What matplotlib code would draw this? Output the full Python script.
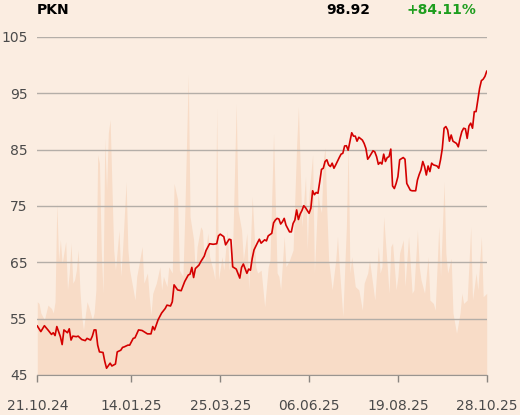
import matplotlib
matplotlib.use("Agg")
import matplotlib.pyplot as plt

# ---------------- data ----------------
ticker = "PKN"
last_price = "98.92"
change = "+84.11%"

tick_days = [0, 53, 103, 153, 203, 253]
tick_labels = ["21.10.24", "14.01.25", "25.03.25", "06.06.25", "19.08.25", "28.10.25"]
y_ticks = [45, 55, 65, 75, 85, 95, 105]

price_day = [0, 2, 4, 6, 8, 9, 10, 11, 13, 14, 15, 17, 18, 19, 20, 22, 23, 25, 27, 28,
             30, 31, 32, 33, 34, 35, 37, 38, 39, 41, 42, 44, 45, 47, 48, 49, 51, 52, 54, 55,
             57, 59, 61, 62, 64, 65, 66, 68, 70, 72, 73, 75, 76, 77, 79, 81, 83, 85, 86, 87,
             88, 89, 91, 92, 94, 95, 97, 99, 101, 102, 103, 105, 106, 108, 109, 110, 112, 114, 115, 116,
             118, 119, 120, 121, 122, 124, 125, 126, 128, 129, 130, 132, 133, 134, 135, 136, 137, 138, 139, 140,
             142, 143, 144, 145, 146, 147, 148, 149, 150, 151, 153, 154, 155, 156, 157, 158, 159, 160, 161, 162,
             163, 164, 165, 166, 167, 168, 170, 171, 172, 173, 174, 175, 176, 177, 178, 179, 180, 181, 183, 184,
             185, 186, 187, 189, 190, 191, 192, 193, 194, 195, 196, 197, 198, 199, 200, 201, 202, 203, 204, 206,
             207, 208, 210, 211, 213, 214, 215, 216, 217, 218, 219, 220, 221, 222, 223, 225, 226, 227, 228, 229,
             230, 231, 232, 233, 234, 236, 237, 238, 239, 240, 241, 242, 243, 244, 245, 246, 247, 248, 249, 250,
             251, 252, 253]
price = [53.7, 52.7, 53.75, 53.0, 52.2, 52.5, 52.0, 53.6, 51.8, 50.4, 53.0, 52.5, 53.2, 51.2, 51.9, 51.8, 51.9, 51.3, 51.1, 51.5,
         51.2, 51.9, 53.0, 53.0, 50.3, 49.1, 49.0, 47.4, 46.2, 47.1, 46.6, 46.95, 49.1, 49.4, 49.9, 50.0, 50.3, 50.3, 51.5, 51.6,
         53.0, 52.9, 52.5, 52.3, 52.3, 53.6, 53.0, 54.8, 56.0, 56.8, 57.4, 57.25, 58.0, 61.0, 60.1, 59.96, 61.6, 62.75, 62.9, 64.1,
         62.3, 63.9, 64.5, 65.1, 66.1, 67.1, 68.3, 68.2, 68.3, 69.7, 70.0, 69.55, 68.1, 69.1, 69.0, 64.2, 63.8, 62.2, 64.1, 64.7,
         63.05, 63.8, 63.6, 65.7, 67.2, 68.5, 69.1, 68.4, 69.0, 68.8, 69.7, 70.15, 72.0, 72.5, 72.8, 72.7, 71.8, 72.2, 72.8, 71.6,
         70.4, 70.4, 71.9, 72.5, 74.3, 72.6, 73.6, 74.2, 75.05, 74.7, 73.7, 74.6, 77.7, 77.0, 77.4, 77.25, 79.3, 81.5, 81.7, 82.9,
         83.2, 82.3, 82.0, 82.6, 81.7, 82.3, 83.6, 84.2, 84.35, 85.65, 85.7, 84.9, 86.5, 88.0, 87.4, 87.4, 86.5, 87.2, 86.7, 86.1,
         85.2, 83.3, 83.75, 84.8, 84.6, 83.75, 82.4, 82.75, 82.45, 84.2, 82.9, 83.6, 83.75, 85.1, 78.55, 78.1, 79.0, 80.2, 83.2, 83.6,
         83.3, 79.0, 77.8, 77.7, 77.7, 79.6, 80.6, 81.4, 82.9, 82.0, 80.5, 82.1, 81.1, 82.6, 82.3, 82.1, 81.7, 83.2, 85.2, 88.8,
         89.1, 88.5, 86.5, 87.6, 86.5, 86.1, 85.5, 87.0, 88.2, 88.8, 88.7, 87.0, 89.2, 89.7, 88.8, 91.75, 91.75, 93.8, 95.9, 97.25,
         97.5, 98.0, 98.92]

vol_day = [0, 1, 2, 4, 6, 8, 9, 10, 11, 12, 13, 14, 16, 17, 18, 19, 20, 21, 22, 23,
           24, 25, 26, 28, 29, 31, 32, 33, 34, 35, 36, 37, 38, 39, 40, 41, 43, 44, 46, 47,
           48, 50, 51, 52, 54, 55, 56, 57, 59, 60, 62, 63, 64, 65, 67, 69, 70, 71, 73, 74,
           76, 77, 79, 80, 82, 83, 85, 86, 88, 89, 90, 92, 93, 94, 96, 97, 99, 100, 101, 102,
           104, 105, 107, 108, 110, 112, 113, 115, 116, 118, 119, 121, 123, 124, 126, 128, 130, 131, 133, 135,
           136, 137, 139, 140, 142, 144, 146, 147, 149, 151, 152, 153, 155, 156, 158, 159, 160, 161, 162, 163,
           164, 166, 168, 169, 170, 172, 174, 175, 176, 177, 179, 181, 183, 184, 186, 187, 189, 190, 192, 193,
           194, 195, 197, 198, 199, 200, 202, 203, 204, 206, 207, 209, 211, 212, 214, 215, 216, 218, 220, 221,
           223, 224, 226, 227, 229, 230, 231, 233, 234, 236, 238, 239, 240, 242, 244, 245, 247, 248, 250, 251,
           253]
volume_m = [1.30, 1.27, 1.10, 0.98, 1.24, 1.18, 1.10, 1.30, 3.05, 2.04, 2.40, 1.98, 2.37, 1.51, 1.81, 2.34, 1.63, 1.69, 1.86, 2.22,
            1.51, 1.04, 0.80, 1.30, 1.21, 0.98, 1.10, 1.51, 3.91, 3.76, 2.22, 1.45, 4.20, 3.28, 4.30, 4.53, 2.22, 1.86, 2.57, 1.75,
            2.22, 3.43, 2.22, 1.86, 1.51, 1.33, 1.75, 1.92, 2.28, 1.63, 1.81, 1.39, 1.07, 1.45, 1.63, 1.92, 1.51, 1.75, 1.57, 1.92,
            1.81, 3.40, 3.11, 1.86, 1.75, 2.81, 5.33, 2.81, 2.40, 1.75, 2.28, 2.63, 2.57, 1.98, 2.52, 2.10, 1.86, 1.69, 4.74, 1.69,
            2.10, 1.86, 2.57, 1.86, 2.28, 4.82, 2.93, 2.57, 2.04, 2.52, 1.51, 3.17, 1.92, 1.81, 1.86, 1.21, 1.92, 2.04, 4.29, 1.81,
            1.75, 1.51, 2.46, 1.92, 2.04, 2.22, 4.08, 4.76, 2.63, 3.52, 2.22, 3.23, 3.91, 1.81, 3.23, 3.00, 2.88, 3.82, 4.03, 2.93,
            2.04, 1.51, 2.04, 2.46, 1.92, 1.04, 2.63, 4.10, 1.81, 2.10, 1.57, 1.51, 1.15, 1.63, 1.81, 2.04, 1.57, 1.33, 2.28, 1.81,
            1.92, 2.81, 1.92, 1.45, 2.28, 2.34, 1.51, 1.75, 2.17, 2.40, 1.57, 2.46, 1.45, 1.51, 2.57, 1.92, 1.69, 1.45, 2.10, 1.33,
            1.27, 1.15, 2.63, 1.75, 3.43, 2.16, 1.81, 2.07, 1.10, 0.74, 1.10, 1.45, 1.27, 1.33, 2.63, 1.33, 1.81, 1.51, 2.46, 1.39,
            1.45]

# ---------------- style ----------------
BG = "#fbede1"
VOL = "#f8dcc7"
GRID = "#b4aea8"
LINE = "#d40000"
TXT = "#4a4a4a"

fig = plt.figure(figsize=(5.2, 4.15), dpi=100, facecolor=BG)
ax_v = fig.add_axes([0.0717, 0.0964, 0.8643, 0.8145])
ax = fig.add_axes([0.0717, 0.0964, 0.8643, 0.8145], sharex=ax_v)

ax_v.set_facecolor(BG)
ax_v.fill_between(vol_day, 0, volume_m, color=VOL, lw=0)
ax_v.set_ylim(0, 6.0)
ax_v.axis("off")

ax.patch.set_visible(False)
ax.plot(price_day, price, color=LINE, lw=1.2, zorder=3)
ax.set_xlim(tick_days[0], tick_days[-1])
ax.set_ylim(45, 105)
ax.set_yticks(y_ticks)
ax.set_yticklabels([str(t) for t in y_ticks])
ax.set_xticks(tick_days)
ax.set_xticklabels(tick_labels)
ax.grid(axis="y", color=GRID, lw=1)
ax.grid(axis="x", visible=False)
for s in ["top", "right", "left"]:
    ax.spines[s].set_visible(False)
ax.spines["bottom"].set_color("#9a9590")
ax.tick_params(axis="y", length=0, pad=7, labelsize=10, labelcolor=TXT)
ax.tick_params(axis="x", length=5, width=1, color="#8a8580", pad=12,
               labelsize=10, labelcolor=TXT)

fig.text(37 / 520, 1 - 10 / 415, ticker, fontsize=10, fontweight="bold",
         color="black", ha="left", va="center")
fig.text(370 / 520, 1 - 10 / 415, last_price, fontsize=10, fontweight="bold",
         color="black", ha="right", va="center")
fig.text(406 / 520, 1 - 10 / 415, change, fontsize=10, fontweight="bold",
         color="#1f9e1f", ha="left", va="center")

fig.savefig("out.png", dpi=100, facecolor=BG)
